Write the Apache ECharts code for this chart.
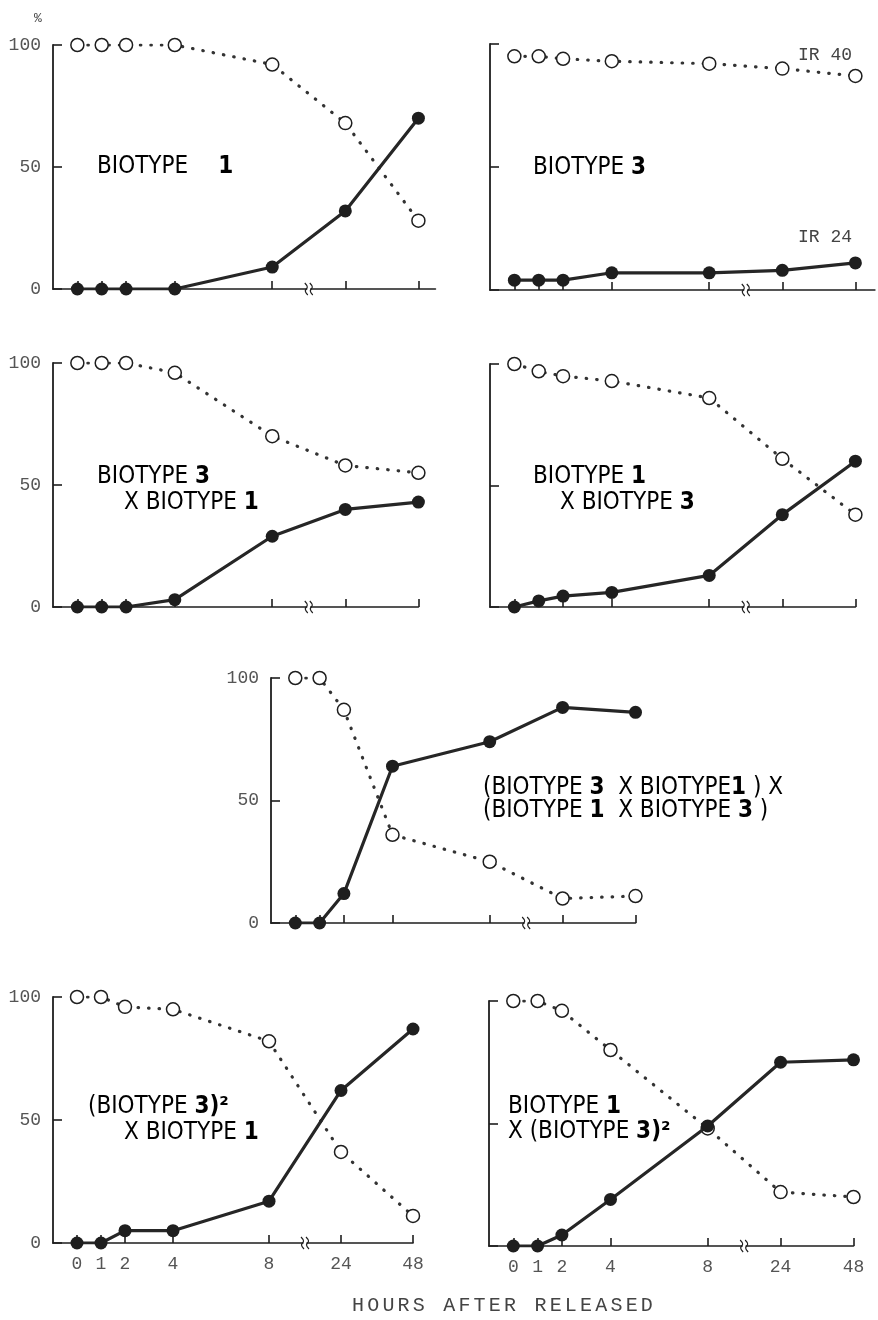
<!DOCTYPE html>
<html><head><meta charset="utf-8">
<script src="https://cdn.jsdelivr.net/npm/echarts@6/dist/echarts.min.js"></script>
<style>html,body{margin:0;padding:0;background:#fff}#c{width:878px;height:1320px}</style>
</head><body><div id="c"></div>
<script>
// ---------- DATA ----------
const hours = [0, 1, 2, 4, 8, 24, 48];
const hourLabels = ['0', '1', '2', '4', '8', '24', '48'];
const yTicks = [0, 50, 100];

const p1Open   = [100, 100, 100, 100, 92, 68, 28];
const p1Filled = [0, 0, 0, 0, 9, 32, 70];
const p2Open   = [95, 95, 94, 93, 92, 90, 87];
const p2Filled = [4, 4, 4, 7, 7, 8, 11];
const p3Open   = [100, 100, 100, 96, 70, 58, 55];
const p3Filled = [0, 0, 0, 3, 29, 40, 43];
const p4Open   = [100, 97, 95, 93, 86, 61, 38];
const p4Filled = [0, 2.5, 4.5, 6, 13, 38, 60];
const p5Open   = [100, 100, 87, 36, 25, 10, 11];
const p5Filled = [0, 0, 12, 64, 74, 88, 86];
const p6Open   = [100, 100, 96, 95, 82, 37, 11];
const p6Filled = [0, 0, 5, 5, 17, 62, 87];
const p7Open   = [100, 100, 96, 80, 48, 22, 20];
const p7Filled = [0, 0, 4.5, 19, 49, 75, 76];

// ---------- broken time scale (0–8 h linear, then compressed 24 h / 48 h) ----------
const axisPos = {0: 0, 1: 1, 2: 2, 4: 4, 8: 8, 24: 11, 48: 14};
const breakPos = 9.5;
const tickPositions = hours.map(h => axisPos[h]);
const labelAt = {};
hours.forEach((h, i) => { labelAt[axisPos[h]] = hourLabels[i]; });

// ---------- layout ----------
const panels = [
  {open: p1Open, filled: p1Filled, left: 53,  top: 45,   height: 244, max: 14.7, unit: 24.36, yLab: true,  xLab: false},
  {open: p2Open, filled: p2Filled, left: 490, top: 44,   height: 246, max: 14.8, unit: 24.36, yLab: false, xLab: false},
  {open: p3Open, filled: p3Filled, left: 53,  top: 363,  height: 244, max: 14,   unit: 24.36, yLab: true,  xLab: false},
  {open: p4Open, filled: p4Filled, left: 490, top: 364,  height: 243, max: 14,   unit: 24.36, yLab: false, xLab: false},
  {open: p5Open, filled: p5Filled, left: 271, top: 678,  height: 245, max: 14,   unit: 24.3,  yLab: true,  xLab: false},
  {open: p6Open, filled: p6Filled, left: 53,  top: 997,  height: 246, max: 14,   unit: 24.0,  yLab: true,  xLab: true},
  {open: p7Open, filled: p7Filled, left: 489, top: 1001, height: 245, max: 14,   unit: 24.3,  yLab: false, xLab: true}
];

// letter-spaced axis title (canvas letterSpacing)
const spaced = {'HOURS AFTER RELEASED': '3.2px'};
const _fill = CanvasRenderingContext2D.prototype.fillText;
CanvasRenderingContext2D.prototype.fillText = function (t, x, y, m) {
  if (spaced[t] !== undefined) {
    const prev = this.letterSpacing;
    this.letterSpacing = spaced[t];
    const r = m === undefined ? _fill.call(this, t, x, y) : _fill.call(this, t, x, y, m);
    this.letterSpacing = prev;
    return r;
  }
  return _fill.apply(this, arguments);
};

const INK = '#1e1e1e';
const NUMFONT = "'Liberation Mono','DejaVu Sans Mono',monospace";
const LABFONT = "'Liberation Sans Narrow','DejaVu Sans Condensed','Liberation Sans',sans-serif";

const grids = [], xAxes = [], yAxes = [], series = [];
panels.forEach((p, i) => {
  grids.push({left: p.left, top: p.top, width: (p.max + 1) * p.unit, height: p.height, containLabel: false});
  xAxes.push({
    type: 'value', gridIndex: i, min: -1, max: p.max,
    axisLine: {show: true, onZero: false, lineStyle: {color: INK, width: 1.6}},
    axisTick: {show: true, inside: true, length: 8, customValues: tickPositions, lineStyle: {color: INK, width: 1.6}},
    axisLabel: {show: p.xLab, customValues: tickPositions, margin: 12,
      formatter: v => labelAt[v] !== undefined ? labelAt[v] : '',
      fontFamily: NUMFONT, fontSize: 18, color: '#555'},
    splitLine: {show: false}
  });
  yAxes.push({
    type: 'value', gridIndex: i, min: 0, max: 100, interval: 50,
    axisLine: {show: true, onZero: false, lineStyle: {color: INK, width: 1.8}},
    axisTick: {show: true, inside: true, length: 9, customValues: yTicks, lineStyle: {color: INK, width: 1.6}},
    axisLabel: {show: p.yLab, margin: 12, fontFamily: NUMFONT, fontSize: 18, color: '#555'},
    splitLine: {show: false}
  });
  series.push({
    type: 'line', xAxisIndex: i, yAxisIndex: i,
    data: hours.map((h, k) => [axisPos[h], p.open[k]]),
    symbol: 'circle', symbolSize: 13,
    itemStyle: {color: '#fff', borderColor: INK, borderWidth: 1.5},
    lineStyle: {color: '#333', width: 3.2, type: [0.5, 10], cap: 'round'},
    z: 2
  });
  series.push({
    type: 'line', xAxisIndex: i, yAxisIndex: i,
    data: hours.map((h, k) => [axisPos[h], p.filled[k]]),
    symbol: 'circle', symbolSize: 13,
    itemStyle: {color: INK},
    lineStyle: {color: '#262626', width: 3.2},
    z: 3
  });
});

const rich = {
  n: {fontFamily: LABFONT, fontSize: 24, color: '#2a2a2a'},
  b: {fontFamily: LABFONT, fontSize: 24, fontWeight: 'bold', color: '#1a1a1a'},
  g: {fontFamily: LABFONT, fontSize: 24, fontWeight: 'bold', color: '#1a1a1a', padding: [0, 0, 0, 30]}
};
function lab(x, y, text) {
  return {type: 'text', x: x, y: y, z: 10,
    style: {text: text, rich: rich, verticalAlign: 'middle', align: 'left'}};
}
function plain(x, y, text, size, align) {
  return {type: 'text', x: x, y: y, z: 10,
    style: {text: text, fontFamily: NUMFONT, fontSize: size, fill: '#444', verticalAlign: 'middle', align: align || 'left'}};
}

const texts = [
  plain(34, 19, '%', 13),
  lab(97, 167, '{n|BIOTYPE}{g|1}'),
  lab(533, 168, '{n|BIOTYPE }{b|3}'),
  plain(798, 55, 'IR 40', 18),
  plain(798, 237, 'IR 24', 18),
  lab(97, 477, '{n|BIOTYPE }{b|3}'),
  lab(124, 503, '{n|X BIOTYPE }{b|1}'),
  lab(533, 477, '{n|BIOTYPE }{b|1}'),
  lab(560, 503, '{n|X BIOTYPE }{b|3}'),
  lab(483, 788, '{n|(BIOTYPE }{b|3}{n|  X BIOTYPE}{b|1}{n| ) X}'),
  lab(483, 811, '{n|(BIOTYPE }{b|1}{n|  X BIOTYPE }{b|3}{n| )}'),
  lab(88, 1107, '{n|(BIOTYPE }{b|3)²}'),
  lab(124, 1133, '{n|X BIOTYPE }{b|1}'),
  lab(508, 1107, '{n|BIOTYPE }{b|1}'),
  lab(508, 1132, '{n|X (BIOTYPE }{b|3)²}'),
  {type: 'text', x: 352, y: 1306, z: 10,
    style: {text: 'HOURS AFTER RELEASED', fontFamily: NUMFONT, fontSize: 20, fill: '#444', verticalAlign: 'middle', align: 'left'}}
];

const chart = echarts.init(document.getElementById('c'), null, {renderer: 'canvas'});
chart.setOption({
  animation: false, backgroundColor: '#fff',
  grid: grids, xAxis: xAxes, yAxis: yAxes, series: series,
  graphic: texts
});

// axis-break marks drawn at the break position of each time axis
const breaks = [];
panels.forEach((p, i) => {
  const pt = chart.convertToPixel({gridIndex: i}, [breakPos, 0]);
  [-2.5, 2.5].forEach(dx => {
    breaks.push({type: 'polyline', z: 11,
      shape: {points: [[pt[0] + dx - 1.5, pt[1] - 6], [pt[0] + dx + 1, pt[1] - 2], [pt[0] + dx - 1, pt[1] + 2], [pt[0] + dx + 1.5, pt[1] + 6]], smooth: 0.4},
      style: {stroke: INK, lineWidth: 1.2, fill: null}});
  });
  breaks.push({type: 'rect', z: 10, shape: {x: pt[0] - 1.5, y: pt[1] - 1.5, width: 3, height: 3}, style: {fill: '#fff'}});
});
chart.setOption({graphic: texts.concat(breaks)});
</script>
</body></html>
